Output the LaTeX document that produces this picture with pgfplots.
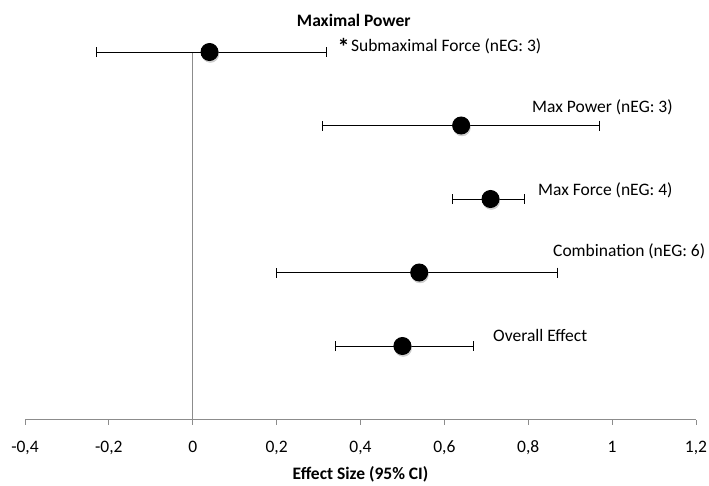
\documentclass[border=0pt]{standalone}
\usepackage{fontspec}
\setmainfont{Carlito}
\usepackage{pgfplots}
\usepackage{pgfplotstable}
\pgfplotsset{compat=1.18}
\newcommand\fs{\fontsize{17.5}{20}\selectfont}
\pgfplotstableread{
x    y  em   ep
0.04 5  0.27 0.28
0.64 4  0.33 0.33
0.71 3  0.09 0.08
0.54 2  0.34 0.33
0.50 1  0.16 0.17
}\data
\begin{document}
\begin{tikzpicture}
\useasboundingbox (-25pt,-65.5pt) rectangle (684pt,419.5pt);
\begin{axis}[
  scale only axis,
  width=671pt, height=367.5pt,
  xmin=-0.4, xmax=1.2, ymin=0, ymax=5,
  axis x line*=bottom,
  axis y line=none,
  xtick distance=0.2,
  x axis line style={draw=black!45, line width=0.8pt, -},
  tick align=outside,
  major tick length=5pt,
  xtick style={draw=black!45, line width=0.8pt},
  ytick=\empty,
  /pgf/number format/use comma,
  /pgf/number format/assume math mode=true,
  tick label style={font=\fs},
  xticklabel style={yshift=-13pt},
  xlabel={\textbf{Effect Size (95\% CI)}},
  xlabel style={font=\fs, yshift=-4.5pt},
  clip=false,
]
\draw[black!45, line width=0.8pt] (axis cs:0,0) -- (axis cs:0,5);
\addplot[only marks, mark=*, mark size=8.5pt, black!35, opacity=0.5, xshift=0.8pt, yshift=-2pt, forget plot] table[x=x,y=y] {\data};
\addplot[only marks, mark=*, mark size=8.5pt, black, line width=1pt,
  error bars/.cd, x dir=both, x explicit, error mark=|,
  error mark options={mark size=5pt, line width=1pt, black},
  error bar style={line width=1pt, black}]
  table[x=x, y=y, x error minus=em, x error plus=ep] {\data};
\begin{scope}[every node/.style={anchor=west, inner sep=0pt, font=\fs}]
\node[font=\fs\bfseries] at (axis cs:0.248,5.435) {Maximal Power};
\node at (axis cs:0.345,5.07) {\raisebox{-4pt}{\fontsize{24}{24}\selectfont\bfseries *}\hspace{1.5pt}Submaximal Force (nEG: 3)};
\node at (axis cs:0.809,4.25) {Max Power (nEG: 3)};
\node at (axis cs:0.823,3.12) {Max Force (nEG: 4)};
\node at (axis cs:0.859,2.29) {Combination (nEG: 6)};
\node at (axis cs:0.716,1.14) {Overall Effect};
\end{scope}
\end{axis}
\end{tikzpicture}
\end{document}
